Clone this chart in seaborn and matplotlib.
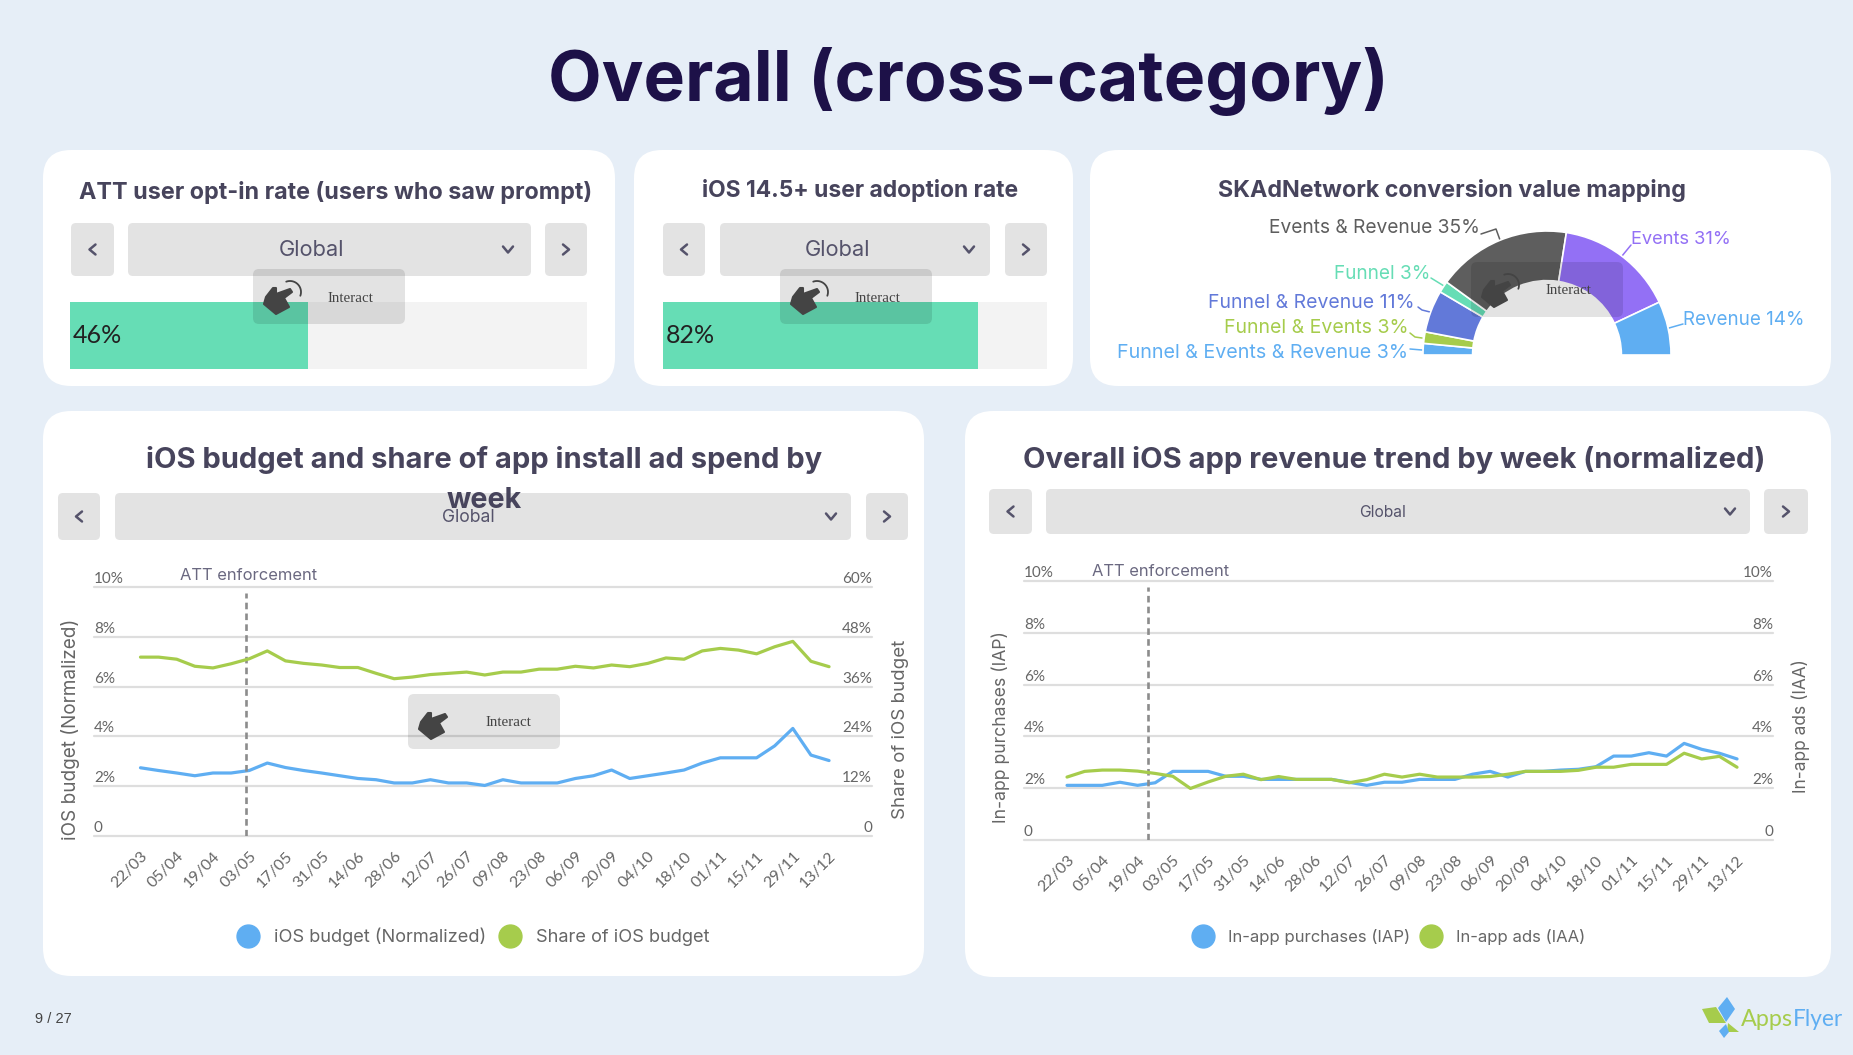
import numpy as np
import pandas as pd
import matplotlib
matplotlib.use("Agg")
import matplotlib.pyplot as plt
import seaborn as sns
from matplotlib.lines import Line2D
from matplotlib.patches import FancyBboxPatch, Polygon

# week labels (every 2nd point is labelled)
tick_labels = ["22/03", "05/04", "19/04", "03/05", "17/05", "31/05", "14/06", "28/06", "12/07", "26/07",
               "09/08", "23/08", "06/09", "20/09", "04/10", "18/10", "01/11", "15/11", "29/11", "13/12"]
weeks = list(range(39))

ios_budget = [2.74, 2.63, 2.53, 2.42, 2.53, 2.53, 2.63, 2.93, 2.75, 2.63, 2.53, 2.42, 2.31, 2.26, 2.13, 2.13,
              2.26, 2.13, 2.13, 2.03, 2.26, 2.13, 2.13, 2.13, 2.31, 2.42, 2.65, 2.31, 2.42, 2.53, 2.65, 2.93,
              3.14, 3.14, 3.14, 3.62, 4.32, 3.25, 3.03]
ios_share = [43.1, 43.1, 42.6, 40.9, 40.5, 41.5, 42.7, 44.6, 42.2, 41.6, 41.2, 40.6, 40.6, 39.2, 37.9, 38.3,
             38.9, 39.2, 39.5, 38.8, 39.5, 39.5, 40.2, 40.2, 40.9, 40.5, 41.2, 40.8, 41.6, 42.9, 42.6, 44.6,
             45.2, 44.8, 43.9, 45.6, 46.9, 42.1, 40.8]
iap = [2.11, 2.11, 2.11, 2.23, 2.11, 2.21, 2.65, 2.65, 2.65, 2.46, 2.46, 2.34, 2.34, 2.34, 2.34, 2.34,
       2.23, 2.11, 2.23, 2.23, 2.34, 2.34, 2.34, 2.54, 2.65, 2.43, 2.65, 2.65, 2.70, 2.73, 2.83, 3.24,
       3.24, 3.37, 3.24, 3.73, 3.50, 3.35, 3.13]
iaa = [2.43, 2.65, 2.70, 2.70, 2.66, 2.57, 2.46, 1.99, 2.24, 2.46, 2.54, 2.33, 2.45, 2.34, 2.34, 2.34,
       2.21, 2.33, 2.54, 2.43, 2.54, 2.43, 2.43, 2.43, 2.45, 2.54, 2.65, 2.65, 2.65, 2.69, 2.81, 2.81,
       2.92, 2.92, 2.92, 3.35, 3.13, 3.23, 2.81]

opt_in_rate = 46
adoption_rate = 82

gauge_names = ["Funnel & Events & Revenue", "Funnel & Events", "Funnel & Revenue", "Funnel",
               "Events & Revenue", "Events", "Revenue"]
gauge_values = [3, 3, 11, 3, 35, 31, 14]
gauge_colors = ["#5FAEF2", "#A6CC4C", "#6279D9", "#66DDB5", "#5E5E5E", "#9370F5", "#5FAEF2"]

BLUE = "#5FAEF2"
GREEN = "#A6CC4C"
MINT = "#66DDB5"
BG = "#E6EEF7"
BTN = "#E3E3E3"
TITLE = "#47445C"
TXT = "#55536B"
GREY = "#666666"
SANS = "Inter"

W, H = 1853, 1055
sns.set_theme(style="white")
plt.rcParams["font.family"] = [SANS, "DejaVu Sans"]

fig = plt.figure(figsize=(W / 100, H / 100), dpi=100, facecolor=BG)
renderer = fig.canvas.get_renderer()


def axes_px(x0, y0, x1, y1, zorder=1):
    # axes placed with pixel coords, y measured from the top
    ax = fig.add_axes([x0 / W, 1 - y1 / H, (x1 - x0) / W, (y1 - y0) / H], zorder=zorder)
    ax.patch.set_alpha(0)
    return ax


def fit(t, size):
    # scale font so the text takes the wanted length in pixels
    box = t.get_window_extent(renderer)
    now = max(box.width, box.height)
    t.set_fontsize(t.get_fontsize() * size / now)
    return t


bg = axes_px(0, 0, W, H, zorder=0)
bg.set_xlim(0, W)
bg.set_ylim(H, 0)
bg.axis("off")

top = axes_px(0, 0, W, H, zorder=10)
top.set_xlim(0, W)
top.set_ylim(H, 0)
top.axis("off")


def rbox(ax, x0, y0, x1, y1, r, color, alpha=1.0, z=1):
    ax.add_patch(FancyBboxPatch((x0, y0), x1 - x0, y1 - y0, boxstyle=f"round,pad=0,rounding_size={r}",
                                fc=color, ec="none", alpha=alpha, zorder=z))


def title(x, y, s, width, z=5):
    t = bg.text(x, y, s, ha="center", va="center", fontsize=18, fontweight="bold", color=TITLE, zorder=z)
    return fit(t, width)


def chevron(x, y, kind, size=5, lw=1.8):
    if kind == "left":
        xs, ys = [x + size * .6, x - size * .6, x + size * .6], [y - size, y, y + size]
    elif kind == "right":
        xs, ys = [x - size * .6, x + size * .6, x - size * .6], [y - size, y, y + size]
    else:
        xs, ys = [x - size, x, x + size], [y - size * .6, y + size * .6, y - size * .6]
    bg.plot(xs, ys, color=TXT, lw=lw, zorder=3, solid_capstyle="round")


def controls(p0, p1, d0, d1, n0, n1, y0, y1, text_x, chev_x, width):
    rbox(bg, p0, y0, p1, y1, 5, BTN, z=2)
    rbox(bg, d0, y0, d1, y1, 5, BTN, z=2)
    rbox(bg, n0, y0, n1, y1, 5, BTN, z=2)
    chevron((p0 + p1) / 2, (y0 + y1) / 2, "left")
    chevron((n0 + n1) / 2, (y0 + y1) / 2, "right")
    chevron(chev_x, (y0 + y1) / 2, "down")
    fit(bg.text(text_x, (y0 + y1) / 2 + 1, "Global", ha="center", va="center", fontsize=14, color=TXT, zorder=3), width)


hand_shape = np.array([(23, 45), (11, 35), (13, 28), (20, 19), (23, 19), (23, 25), (37, 20), (39, 23), (31, 29), (36, 38)])


def interact(x0, y0, arc=True, text_x=97):
    rbox(top, x0, y0, x0 + 152, y0 + 55, 6, "#000000", alpha=0.11)
    top.add_patch(Polygon(hand_shape + [x0, y0], closed=True, fc="#444444", ec="#444444", lw=1.5, joinstyle="round"))
    if arc:
        a = np.radians(np.linspace(-110, 20, 20))
        top.plot(x0 + 37 + 11 * np.cos(a), y0 + 23 + 11 * np.sin(a), color="#444444", lw=1.3)
    fit(top.text(x0 + text_x, y0 + 29, "Interact", ha="center", va="center", fontsize=11, color="#444444",
                 family="Liberation Serif"), 46)


# cards
for x0, y0, x1, y1 in [(43, 150, 615, 386), (634, 150, 1073, 386), (1090, 150, 1831, 386),
                       (43, 411, 924, 976), (965, 411, 1831, 977)]:
    rbox(bg, x0, y0, x1, y1, 28, "white")

t = bg.text(968, 81, "Overall (cross-category)", ha="center", va="center", fontsize=42, fontweight="bold", color="#1D1148")
fit(t, 840)

title(336, 192, "ATT user opt-in rate (users who saw prompt)", 512)
title(860, 191, "iOS 14.5+ user adoption rate", 317)
title(1452, 191, "SKAdNetwork conversion value mapping", 468)
title(484, 460, "iOS budget and share of app install ad spend by", 675)
title(484, 500, "week", 75, z=6)
title(1394, 460, "Overall iOS app revenue trend by week (normalized)", 741)

controls(71, 114, 128, 531, 545, 587, 223, 276, 311, 508, 66)
controls(663, 705, 720, 990, 1005, 1047, 223, 276, 838, 969, 66)
controls(58, 100, 115, 851, 866, 908, 493, 540, 468, 831, 53)
controls(989, 1032, 1046, 1750, 1764, 1808, 489, 534, 1383, 1730, 47)


def rate_bar(x0, x1, value):
    ax = axes_px(x0, 302, x1, 369)
    sns.barplot(x=[100], y=["Global"], color="#F3F3F3", width=1, saturation=1, ax=ax, orient="h", linewidth=0)
    sns.barplot(x=[value], y=["Global"], color=MINT, width=1, saturation=1, ax=ax, orient="h", linewidth=0)
    ax.set_xlim(0, 100)
    ax.set_ylim(0.5, -0.5)
    ax.axis("off")
    ax.text(0.6, 0, f"{value}%", ha="left", va="center", fontsize=18, color="#222222", family="Lato")


rate_bar(70, 587, opt_in_rate)
rate_bar(663, 1047, adoption_rate)

# gauge is a pie with the lower half hidden
gauge = axes_px(1547 - 124, 355 - 124, 1547 + 124, 355 + 124, zorder=2)
wedges, _ = gauge.pie(gauge_values + [sum(gauge_values)], colors=gauge_colors + ["white"], startangle=180,
                      counterclock=False, radius=1, wedgeprops=dict(width=0.4, edgecolor="white", linewidth=1.2))
wedges[-1].set_visible(False)
gauge.set_xlim(-1, 1)
gauge.set_ylim(-1, 1)

gauge_labels = [(1408, 353, 290, "right", [(1410, 349), (1422, 350)]),
                (1409, 328, 184, "right", [(1410, 333), (1415, 337), (1422, 338)]),
                (1415, 303, 205, "right", [(1418, 307), (1422, 310), (1430, 312)]),
                (1430, 274, 96, "right", [(1431, 278), (1444, 286)]),
                (1480, 228, 211, "right", [(1481, 234), (1496, 229), (1500, 240)]),
                (1631, 240, 100, "left", [(1631, 245), (1622, 256)]),
                (1683, 320, 121, "left", [(1683, 324), (1669, 328)])]
for name, val, col, (lx, ly, lw_px, ha, leader) in zip(gauge_names, gauge_values, gauge_colors, gauge_labels):
    fit(bg.text(lx, ly, f"{name} {val}%", ha=ha, va="center", fontsize=13, color=col, zorder=3), lw_px)
    bg.plot(*zip(*leader), color=col, lw=1.1, zorder=3)


def week_chart(box, xlim, left, right, left_ticks, right_ticks, rmax, right_labels, att, labels, legend_x, legend_size):
    left_name, left_vals, left_len, left_cx, left_cy = left
    right_name, right_vals, right_len, right_cx, right_cy = right
    ax = axes_px(*box)
    ax2 = ax.twinx()
    ax2.patch.set_alpha(0)
    sns.lineplot(x=weeks, y=left_vals, color=BLUE, linewidth=2.3, ax=ax)
    sns.lineplot(x=weeks, y=right_vals, color=GREEN, linewidth=2.3, ax=ax2)
    ax.vlines(att[0], 0, att[1], color="#8C8C8C", lw=1.9, linestyles=(0, (2.5, 1.6)), zorder=4)
    ax.set_xlim(*xlim)
    ax.set_ylim(0, 10)
    ax2.set_ylim(0, rmax)
    ax.set_xticks(weeks[::2], tick_labels)
    ax.set_yticks(left_ticks, ["0", "2%", "4%", "6%", "8%", "10%"])
    ax2.set_yticks(right_ticks, right_labels)
    ax.tick_params(axis="x", length=0, pad=9.4, labelsize=11.5, labelcolor=GREY)
    ax.tick_params(axis="y", length=0, pad=0, labelsize=11, labelcolor=GREY)
    ax2.tick_params(axis="y", length=0, pad=0, labelsize=11, labelcolor=GREY)
    for a in (ax, ax2):
        sns.despine(ax=a, left=True, right=True, top=True, bottom=True)
    ax.grid(axis="y", color="#DEDEDE", lw=1.6)
    ax2.grid(False)
    ax.set_axisbelow(True)
    for g in ax.get_ygridlines():
        g.set_clip_on(False)
    up = matplotlib.transforms.ScaledTranslation(0, 1 / 100, fig.dpi_scale_trans)
    for lab in ax.get_yticklabels():
        lab.set(ha="left", va="bottom", family="Lato", transform=lab.get_transform() + up)
    for lab in ax2.get_yticklabels():
        lab.set(ha="right", va="bottom", family="Lato", transform=lab.get_transform() + up)
    for lab in ax.get_xticklabels():
        lab.set(rotation=45, ha="right", va="top", rotation_mode="anchor", family="Lato")
    px = bg.transData
    ax.set_ylabel(left_name, color=GREY, fontsize=12)
    ax.yaxis.set_label_coords(left_cx + 10, left_cy, transform=px)
    fit(ax.yaxis.label, left_len)
    ax2.set_ylabel(right_name, color=GREY, fontsize=12, rotation=90)
    ax2.yaxis.set_label_coords(right_cx - 6, right_cy, transform=px)
    fit(ax2.yaxis.label, right_len)
    fit(bg.text(labels[0], labels[1], "ATT enforcement", ha="left", va="center", fontsize=12, color="#6A6880", zorder=3), labels[2])
    handles = [Line2D([], [], marker="o", ls="none", ms=16.5, color=BLUE, label=left_name),
               Line2D([], [], marker="o", ls="none", ms=16.5, color=GREEN, label=right_name)]
    ax2.legend(handles=handles, loc="center", bbox_to_anchor=legend_x, bbox_transform=px, ncol=2, frameon=False,
               fontsize=legend_size, labelcolor=GREY, handlelength=1, handletextpad=0.95, columnspacing=0.8)


week_chart((94, 587, 872, 836), (-2.565, 40.37),
           ("iOS budget (Normalized)", ios_budget, 221, 70, 729),
           ("Share of iOS budget", ios_share, 179, 898, 729),
           [0, 2, 4, 6, 8, 10], [0, 12, 24, 36, 48, 60], 60, ["0", "12%", "24%", "36%", "48%", "60%"],
           (5.85, 9.75), (180, 575, 137), (474, 937), 13.1)
week_chart((1024, 581, 1773, 840), (-2.44, 40.04),
           ("In-app purchases (IAP)", iap, 192, 1000, 727),
           ("In-app ads (IAA)", iaa, 134, 1798, 726),
           [0, 2, 4, 6, 8, 10], [0, 2, 4, 6, 8, 10], 10, ["0", "2%", "4%", "6%", "8%", "10%"],
           (4.6, 9.77), (1092, 571, 137), (1390, 937), 12)

interact(253, 269)
interact(780, 269)
interact(1471, 262)
interact(408, 694, arc=False, text_x=100)

# footer
bg.text(35, 1019, "9 / 27", ha="left", va="center", fontsize=10.5, color="#444444", family="Liberation Sans")
for pts, col in [([(1702, 1009), (1716, 1007), (1726, 1023), (1709, 1023)], GREEN),
                 ([(1727, 997), (1735, 1009), (1726, 1022), (1718, 1008)], BLUE),
                 ([(1728, 1023), (1739, 1032), (1727, 1032)], GREEN),
                 ([(1726, 1024), (1729, 1032), (1724, 1038), (1719, 1031)], BLUE)]:
    bg.add_patch(Polygon(pts, closed=True, fc=col, ec="none"))
fit(bg.text(1741, 1020, "Apps", ha="left", va="center", fontsize=17, color=GREEN, family="Lato"), 52)
fit(bg.text(1793, 1020, "Flyer", ha="left", va="center", fontsize=17, color=BLUE, family="Lato"), 50)

fig.savefig("out.png", dpi=100, facecolor=BG)
